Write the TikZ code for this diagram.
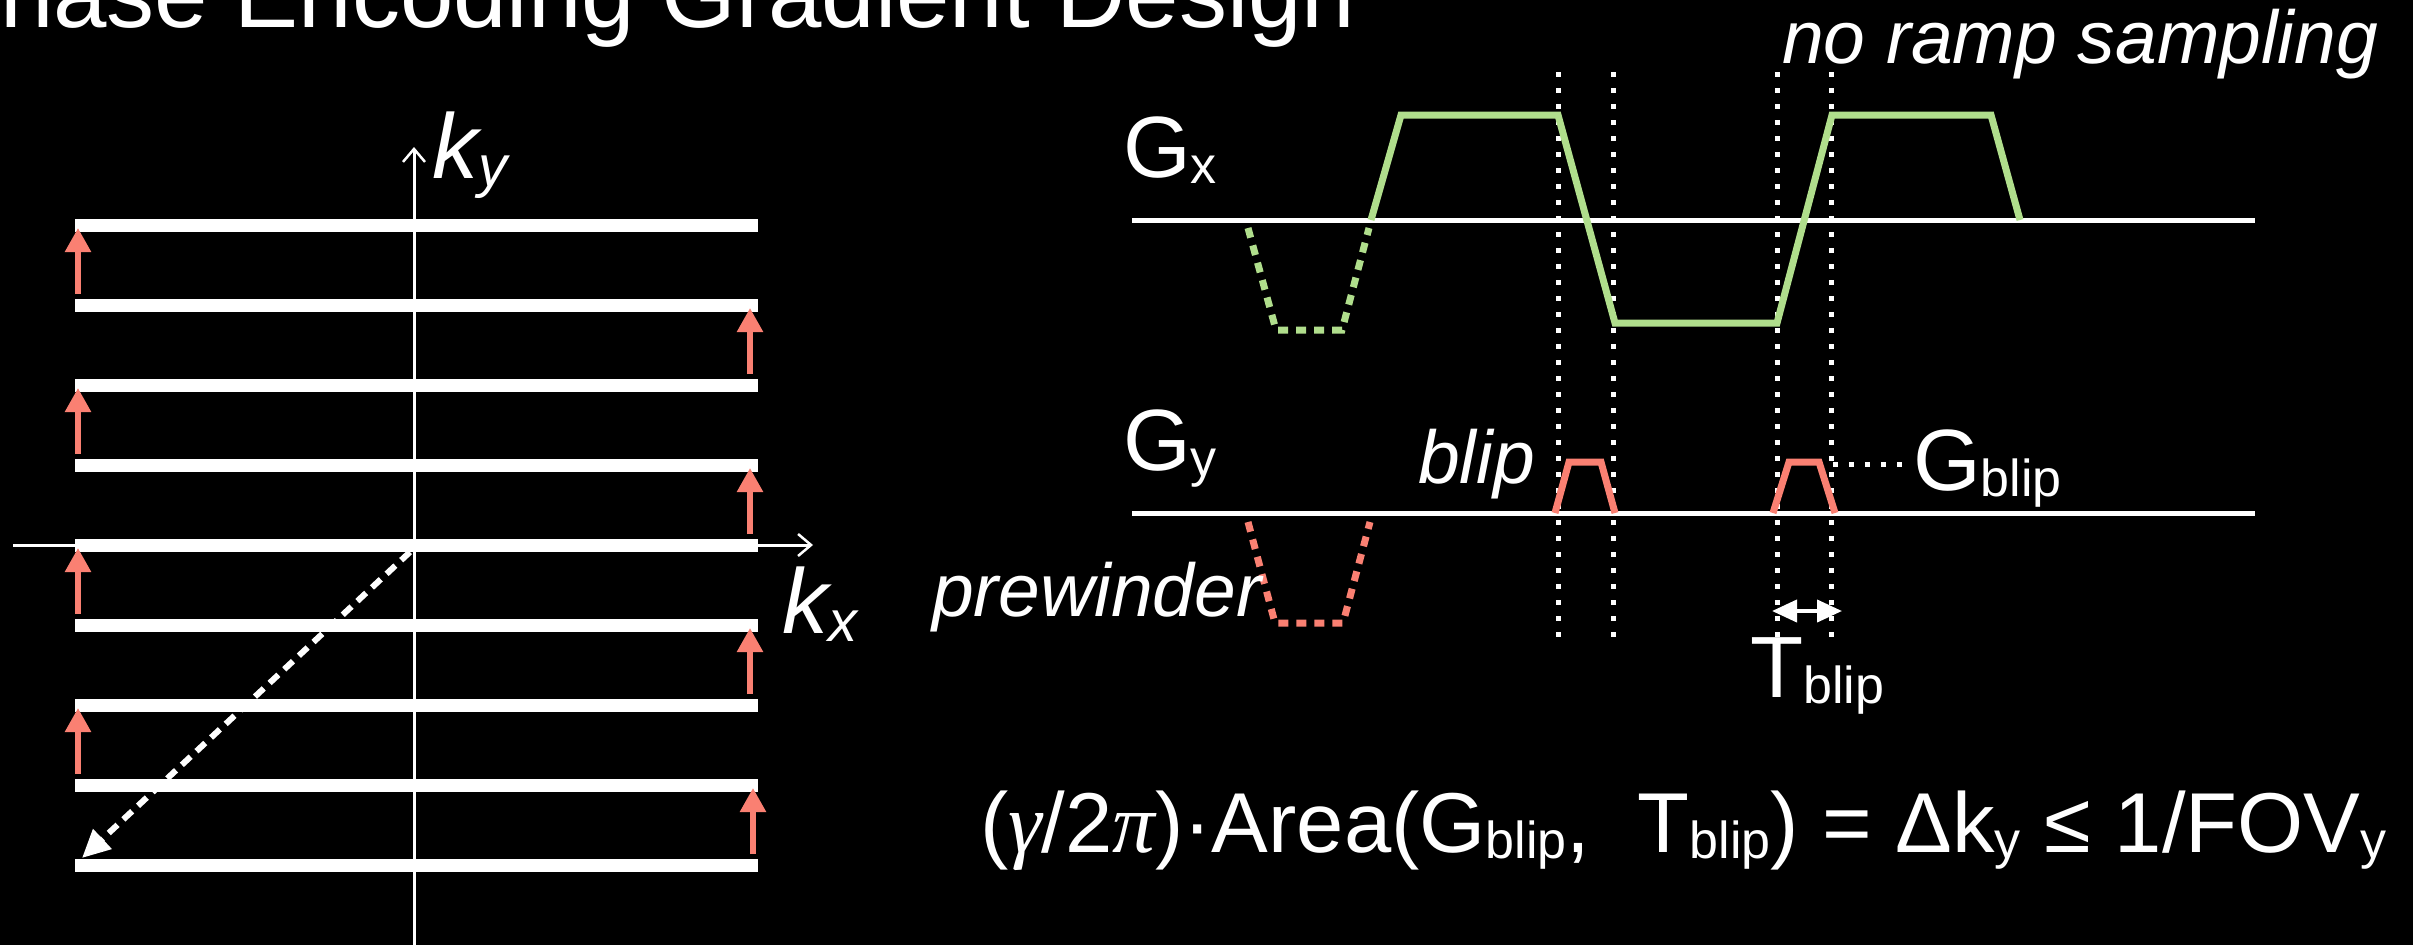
\documentclass[tikz,border=0pt]{standalone}
\usepackage{fontspec}
\setmainfont{Liberation Sans}
\newfontfamily\serifgr{Liberation Serif}
\usetikzlibrary{arrows.meta}
\definecolor{salmon}{RGB}{250,128,114}
\definecolor{lgreen}{RGB}{176,222,140}
\newcommand{\lowsub}[1]{\raisebox{-6pt}{\fontsize{52}{52}\selectfont #1}}
\begin{document}
\begin{tikzpicture}[x=1pt,y=-1pt,
  txt/.style={inner sep=0pt, outer sep=0pt, anchor=base west, text=white},
  bigfont/.style={font=\fontsize{87}{87}\selectfont},
  itfont/.style={font=\fontsize{75}{75}\selectfont\itshape},
  kfont/.style={font=\fontsize{92}{92}\selectfont\itshape},
  kbar/.style={white, line width=13pt},
  axisline/.style={white, line width=3pt, -{Straight Barb[length=13pt,width=22pt,line width=2.5pt]}},
  uparrow/.style={salmon, line width=5.5pt, -{Triangle[length=24pt,width=25pt]}},
  gaxis/.style={white, line width=5pt},
  gxwave/.style={lgreen, line width=7pt},
  gxpre/.style={lgreen, line width=7pt, dash pattern=on 10pt off 8pt},
  gywave/.style={salmon, line width=7pt},
  gypre/.style={salmon, line width=7pt, dash pattern=on 10pt off 8pt},
  dotline/.style={white, line width=5pt, dash pattern=on 5pt off 11pt},
]
\useasboundingbox (0,0) rectangle (2413,945);
\fill[black] (0,0) rectangle (2413,945);
\clip (0,0) rectangle (2413,945);

% title (cropped)
\node[txt, font=\fontsize{96}{96}\selectfont] (title) at (-64,27) {Phase Encoding Gradient Design};

% ---------- k-space ----------
\coordinate (kyb) at (414,945);
\coordinate (kyt) at (414,147);
\coordinate (kxl) at (13,545);
\coordinate (kxr) at (813,545);
\draw[axisline] (kyb) -- (kyt);
\draw[axisline] (kxl) -- (kxr);
\foreach \i/\y in {1/225,2/305,3/385,4/465,5/545,6/625,7/705,8/785,9/865} {
  \coordinate (bl\i) at (75,\y);
  \coordinate (br\i) at (758,\y);
  \draw[kbar] (bl\i) -- (br\i);
}
\foreach \y in {225,385,545,705} {
  \coordinate (la) at (78,\y+80-11);
  \coordinate (lb) at (78,\y+3);
  \draw[uparrow] (la) -- (lb);
}
\foreach \y/\x in {305/750,465/750,625/750,785/753} {
  \coordinate (ra) at (\x,\y+80-11);
  \coordinate (rb) at (\x,\y+3);
  \draw[uparrow] (ra) -- (rb);
}
\coordinate (dstart) at (410,552);
\coordinate (dend) at (82,858);
\draw[white, line width=6pt, dash pattern=on 12pt off 8pt, -{Triangle[length=28pt,width=26pt]}] (dstart) -- (dend);

\node[txt, kfont] (ky) at (432,178) {k\raisebox{-8pt}{\fontsize{58}{58}\selectfont y}};
\node[txt, kfont] (kx) at (782,633) {k\raisebox{-8pt}{\fontsize{58}{58}\selectfont x}};

% ---------- gradient waveforms ----------
\coordinate (gxa) at (1132,220); \coordinate (gxb) at (2255,220);
\coordinate (gya) at (1132,513); \coordinate (gyb) at (2255,513);
\draw[gaxis] (gxa) -- (gxb);
\draw[gaxis] (gya) -- (gyb);

\foreach \x [count=\i] in {1558,1613,1777,1831} {
  \coordinate (vt\i) at (\x,72);
  \coordinate (vb\i) at (\x,648);
  \draw[dotline] (vt\i) -- (vb\i);
}

\draw[gxpre] (1248,228) -- (1276,330) -- (1342,330) -- (1369,228);
\draw[gxwave] (1371,220) -- (1401,115) -- (1558,115) -- (1615,323) -- (1777,323) -- (1832,115) -- (1991,115) -- (2020,220);

\draw[gypre] (1248,522) -- (1275,623) -- (1343,623) -- (1370,522);
\draw[gywave] (1555,513) -- (1569,462) -- (1601,462) -- (1615,513);
\draw[gywave] (1773,513) -- (1789,462) -- (1819,462) -- (1835,513);

\node[txt, bigfont] (gx) at (1123,177) {G\lowsub{x}};
\node[txt, bigfont] (gy) at (1123,470) {G\lowsub{y}};
\node[txt, itfont] (blip) at (1418,483) {blip};
\node[txt, bigfont] (gblip) at (1913,490) {G\lowsub{blip}};
\node[txt, bigfont] (tblip) at (1750,697) {T\lowsub{blip}};
\node[txt, itfont] (prew) at (932,616) {prewinder};
\node[txt, itfont] (noramp) at (1782,63) {no ramp sampling};

\coordinate (blipr) at (1833,464);
\draw[dotline, shorten >=4pt] (blipr) -- (gblip.west |- blipr);

\coordinate (tl) at (1772,611);
\coordinate (tr) at (1842,611);
\draw[white, line width=4pt, {Triangle[length=25pt,width=22pt]}-{Triangle[length=25pt,width=22pt]}] (tl) -- (tr);

% formula
\node[txt, font=\fontsize{85}{85}\selectfont] (formula) at (980,852)
  {({\serifgr\itshape γ}/2{\serifgr\itshape π})·Area(G\lowsub{blip},\ \ T\lowsub{blip}) = Δk\lowsub{y} ≤ 1/FOV\lowsub{y}};
\end{tikzpicture}
\end{document}
